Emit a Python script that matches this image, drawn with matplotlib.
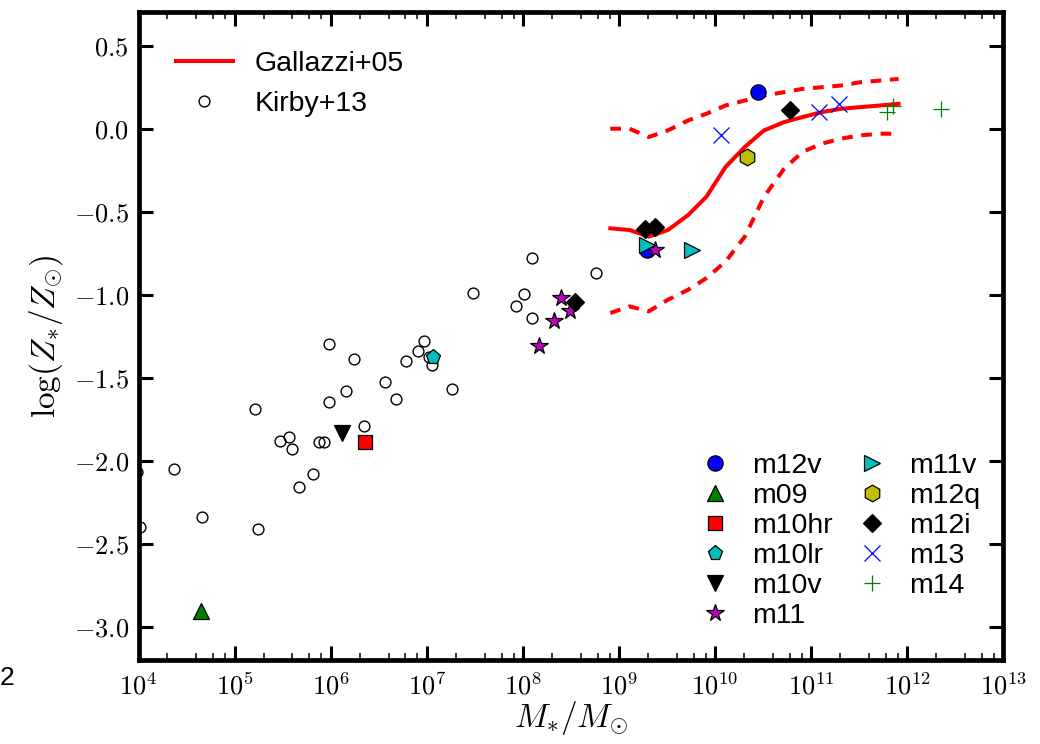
import numpy as np
import matplotlib
matplotlib.use("Agg")
import matplotlib.pyplot as plt
from matplotlib.ticker import LogLocator, FixedLocator, NullFormatter

plt.rcParams['mathtext.fontset'] = 'cm'
plt.rcParams['font.family'] = ['Liberation Sans', 'DejaVu Sans']

# Gallazzi+05 relation (log M*, 16th / 50th / 84th percentiles)
gal_logm = [8.91, 9.11, 9.31, 9.51, 9.72, 9.91, 10.11, 10.31, 10.51, 10.72,
            10.91, 11.11, 11.31, 11.51, 11.72, 11.91]
gal_p50 = [-0.60, -0.61, -0.65, -0.61, -0.52, -0.41, -0.23, -0.11, -0.01, 0.04,
           0.07, 0.10, 0.12, 0.13, 0.14, 0.15]
gal_p16 = [-1.11, -1.07, -1.10, -1.03, -0.97, -0.90, -0.80, -0.65, -0.41, -0.24,
           -0.14, -0.09, -0.06, -0.04, -0.03, -0.03]
gal_p84 = [-0.00, -0.00, -0.05, -0.01, 0.05, 0.09, 0.14, 0.17, 0.20, 0.22,
           0.24, 0.25, 0.26, 0.28, 0.29, 0.30]

# Kirby+13 dwarf galaxies
kirby_logm = [3.98, 4.02, 4.37, 4.66, 5.215, 5.24, 5.47, 5.57, 5.60, 5.67, 5.82,
              5.88, 5.93, 5.985, 5.98, 6.16, 6.24, 6.35, 6.56, 6.68, 6.78, 6.91,
              6.97, 7.02, 7.05, 7.26, 7.48, 7.925, 8.01, 8.09, 8.10, 8.76]
kirby_z = [-2.067, -2.40, -2.047, -2.338, -1.690, -2.408, -1.878, -1.857, -1.929,
           -2.158, -2.077, -1.887, -1.887, -1.299, -1.648, -1.578, -1.387, -1.788,
           -1.528, -1.628, -1.397, -1.337, -1.277, -1.377, -1.421, -1.568, -0.988,
           -1.069, -0.998, -0.780, -1.138, -0.870]

# Simulations
sim_names = ['m12v', 'm09', 'm10hr', 'm10lr', 'm10v', 'm11', 'm11v', 'm12q',
             'm12i', 'm13', 'm14']
sim_logm = [
    [10.443, 9.288],
    [4.65],
    [6.354],
    [7.068],
    [6.118],
    [8.396, 8.487, 8.327, 8.168, 9.375],
    [9.288, 9.756],
    [10.329],
    [8.542, 9.271, 9.375, 10.779],
    [10.058, 11.084, 11.292],
    [11.786, 11.854, 12.351],
]
sim_z = [
    [0.219, -0.733],
    [-2.907],
    [-1.889],
    [-1.377],
    [-1.835],
    [-1.022, -1.096, -1.159, -1.307, -0.729],
    [-0.699, -0.729],
    [-0.170],
    [-1.045, -0.603, -0.593, 0.113],
    [-0.035, 0.099, 0.149],
    [0.099, 0.135, 0.119],
]
sim_markers = ['o', '^', 's', 'p', 'v', '*', '>', 'h', 'D', 'x', '+']
sim_colors = ['b', 'g', 'r', 'c', 'k', 'm', 'c', 'y', 'k', 'b', 'g']
sim_sizes = [11, 11, 10, 11, 11, 13, 11, 12, 9, 11, 11]

yticks = [0.5, 0.0, -0.5, -1.0, -1.5, -2.0, -2.5, -3.0]
xdecades = list(range(4, 14))

fig = plt.figure(figsize=(10.4, 7.44), dpi=100)
ax = fig.add_axes([0.1332, 0.1129, 0.8315, 0.8703])

l_gal, = ax.plot(10 ** np.array(gal_logm), gal_p50, '-', color='r', lw=2.9)
ax.plot(10 ** np.array(gal_logm), gal_p16, color='r', lw=2.9, linestyle=(0, (2.65, 2.15)))
ax.plot(10 ** np.array(gal_logm), gal_p84, color='r', lw=2.9, linestyle=(0, (2.65, 2.15)))
l_kirby, = ax.plot(10 ** np.array(kirby_logm), kirby_z, 'o', mfc='none', mec='k',
                   mew=1.0, ms=7.8, linestyle='none')

handles = []
for name, lm, z, mk, col, ms in zip(sim_names, sim_logm, sim_z, sim_markers,
                                    sim_colors, sim_sizes):
    if mk in ('x', '+'):
        h, = ax.plot(10 ** np.array(lm), z, mk, color=col, ms=ms, mew=0.9,
                     linestyle='none', label=name)
    else:
        h, = ax.plot(10 ** np.array(lm), z, mk, mfc=col, mec='k', mew=0.9, ms=ms,
                     linestyle='none', label=name)
    handles.append(h)

ax.set_xscale('log')
ax.set_xlim(1e4, 1e13)
ax.set_ylim(-3.2, 0.7)

ax.xaxis.set_major_locator(FixedLocator([10.0 ** d for d in xdecades]))
ax.set_xticklabels(['$10^{%d}$' % d for d in xdecades])
ax.xaxis.set_minor_locator(LogLocator(base=10, subs=[2, 4, 6, 8], numticks=100))
ax.xaxis.set_minor_formatter(NullFormatter())
ax.set_yticks(yticks)
ax.set_yticklabels(['$%.1f$' % v for v in yticks])

for s in ax.spines.values():
    s.set_linewidth(3.4)
ax.tick_params(which='major', direction='in', length=10.3, width=2.2,
               top=True, right=True, labelsize=19, pad=7)
ax.tick_params(which='minor', direction='in', length=5.3, width=1.1,
               top=True, right=True)
ax.tick_params(axis='x', which='major', pad=9)

ax.set_xlabel(r'$M_{*}/M_{\odot}$', fontsize=24, labelpad=0)
ax.set_ylabel(r'$\log(Z_{*}/Z_{\odot})$', fontsize=24, labelpad=6)

leg1 = ax.legend([l_gal, l_kirby], ['Gallazzi+05', 'Kirby+13'], loc='upper left',
                 bbox_to_anchor=(0.030, 0.958), borderaxespad=0, frameon=False,
                 fontsize=20.5, numpoints=1, labelspacing=0.5, handletextpad=0.75,
                 handlelength=2.0)
ax.add_artist(leg1)
ax.legend(handles=handles, loc='lower right', bbox_to_anchor=(0.9867, 0.031),
          borderaxespad=0, frameon=False, fontsize=20.5, numpoints=1, ncol=2,
          labelspacing=0.14, handlelength=1.1, handletextpad=0.75,
          columnspacing=0.85)

fig.text(0.0, 1 - 678 / 744, '2', fontsize=19, ha='left', va='center')

fig.savefig('out.png', dpi=100)
